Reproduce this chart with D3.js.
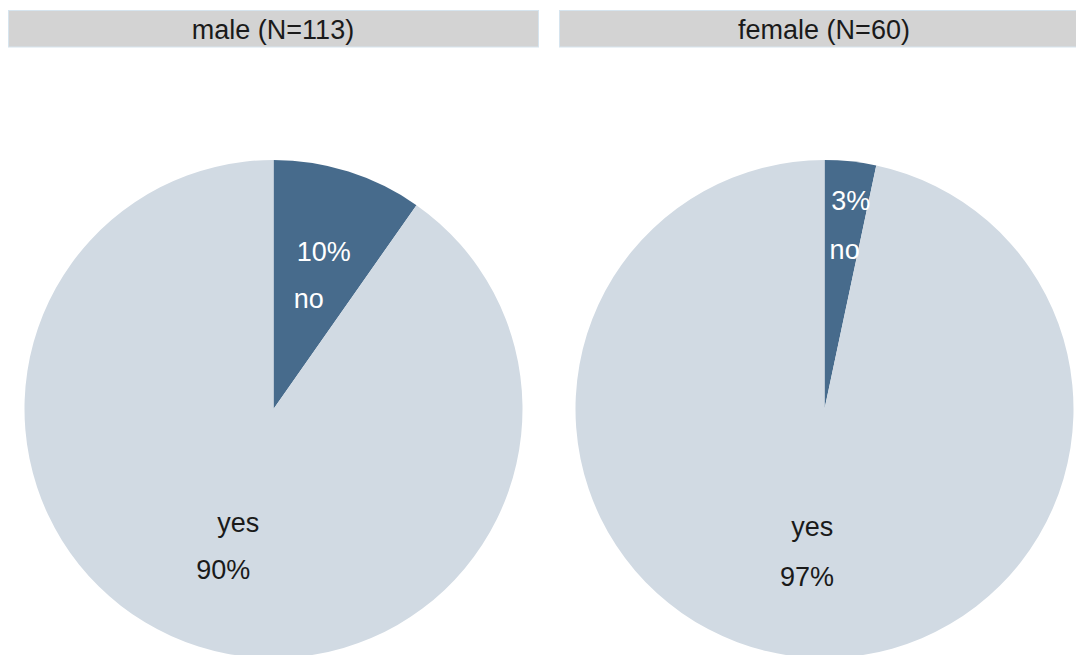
<!DOCTYPE html>
<html>
<head>
<meta charset="utf-8">
<script src="https://cdn.jsdelivr.net/npm/d3@7"></script>
<style>
  html, body { margin: 0; padding: 0; background: #fff; }
  svg { display: block; font-family: "Liberation Sans", Arial, sans-serif; }
</style>
</head>
<body>
<div id="chart"></div>
<script>
// data
const groups = ["male (N=113)", "female (N=60)"];
const categories = ["no", "yes"];
const counts = [[11, 102], [2, 58]];
const pctLabels = [["10%", "90%"], ["3%", "97%"]];

const width = 1076, height = 655;
const panelW = 530, gap = 21, leftPad = 8.5;
const stripTop = 10.5, stripH = 36.5;
const pieCy = 409, radius = 249;

const colors = d3.scaleOrdinal().domain(categories).range(["#476b8c", "#d1dae3"]);
const textColor = {"no": "#ffffff", "yes": "#1a1a1a"};

let svg = d3.select("#chart").append("svg")
  .attr("width", width)
  .attr("height", height);

let pie = d3.pie().sort(null).value(d => d.value);
let arc = d3.arc().innerRadius(0).outerRadius(radius);

groups.forEach(function(g, gi) {
  let x0 = leftPad + gi * (panelW + gap);
  let panel = svg.append("g").attr("transform", `translate(${x0},0)`);

  // strip header
  panel.append("rect")
    .attr("x", 0).attr("y", stripTop)
    .attr("width", panelW).attr("height", stripH)
    .attr("fill", "#d3d3d3")
    .attr("stroke", "#d6e4ee")
    .attr("stroke-width", 1);
  panel.append("text")
    .attr("x", panelW / 2 - 0.5).attr("y", stripTop + stripH / 2 + 1)
    .attr("text-anchor", "middle")
    .attr("dominant-baseline", "central")
    .style("font-size", "27px")
    .style("fill", "#1a1a1a")
    .text(g);

  let data = categories.map((c, i) => ({cat: c, value: counts[gi][i], pct: pctLabels[gi][i]}));
  let arcs = pie(data);
  let total = d3.sum(data, d => d.value);

  let pg = panel.append("g").attr("transform", `translate(${panelW / 2},${pieCy})`);

  pg.selectAll("path")
    .data(arcs)
    .enter()
    .append("path")
    .attr("d", arc)
    .attr("fill", d => colors(d.data.cat));

  // labels: small slices are pushed outward
  arcs.forEach(function(a) {
    let mid = (a.startAngle + a.endAngle) / 2;
    let small = a.data.value / total < 0.05;
    if (small) mid += 0.02;
    let rLab = small ? 0.65 * radius : 0.47 * radius;
    let rPct = small ? 0.85 * radius : 0.67 * radius;
    let col = textColor[a.data.cat];
    pg.append("text")
      .attr("x", rLab * Math.sin(mid))
      .attr("y", -rLab * Math.cos(mid) + 2)
      .attr("text-anchor", "middle")
      .attr("dominant-baseline", "central")
      .style("font-size", "27px")
      .style("fill", col)
      .text(a.data.cat);
    pg.append("text")
      .attr("x", rPct * Math.sin(mid))
      .attr("y", -rPct * Math.cos(mid) + 2)
      .attr("text-anchor", "middle")
      .attr("dominant-baseline", "central")
      .style("font-size", "27px")
      .style("fill", col)
      .text(a.data.pct);
  });
});
</script>
</body>
</html>
